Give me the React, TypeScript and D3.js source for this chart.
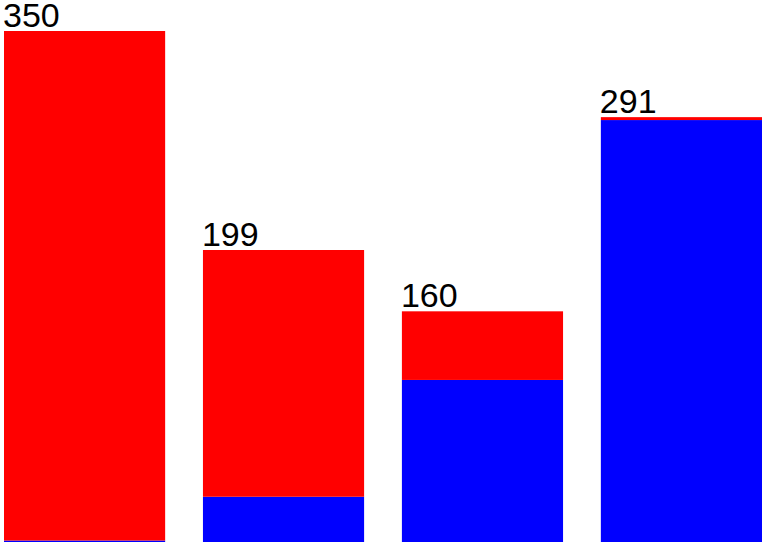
import React from "react";
import * as d3 from "d3";

const categories = ["A", "B", "C", "D"];
const blueValues = [1, 31, 111, 289];
const redValues = [349, 169, 47, 2];
const totalLabels = ["350", "199", "160", "291"];

const W = 764;
const H = 544;

export default function App() {
  const x = d3.scaleBand<string>().domain(categories).range([4, 762]).paddingInner(0.19).paddingOuter(0);
  const y = d3.scaleLinear().domain([0, 350]).range([542, 31]);

  const rows = categories.map((c, i) => ({ c, blue: blueValues[i], red: redValues[i] }));
  const stack = d3.stack<any>().keys(["blue", "red"]);
  const series = stack(rows);
  const colors: Record<string, string> = { blue: "#0000ff", red: "#ff0000" };

  return (
    <svg width={W} height={H} style={{ position: "absolute", left: 0, top: 0 }}>
      {series.map((s) => (
        <g key={s.key} fill={colors[s.key]}>
          {s.map((d, i) => (
            <rect
              key={i}
              x={x(categories[i])}
              width={x.bandwidth()}
              y={y(d[1])}
              height={y(d[0]) - y(d[1])}
            />
          ))}
        </g>
      ))}
      {categories.map((c, i) => (
        <text
          key={c}
          x={(x(c) as number) - 1}
          y={y(blueValues[i] + redValues[i]) - 4.5}
          fontFamily="Liberation Sans, Arial, sans-serif"
          fontSize={34}
          fill="#000"
        >
          {totalLabels[i]}
        </text>
      ))}
    </svg>
  );
}
